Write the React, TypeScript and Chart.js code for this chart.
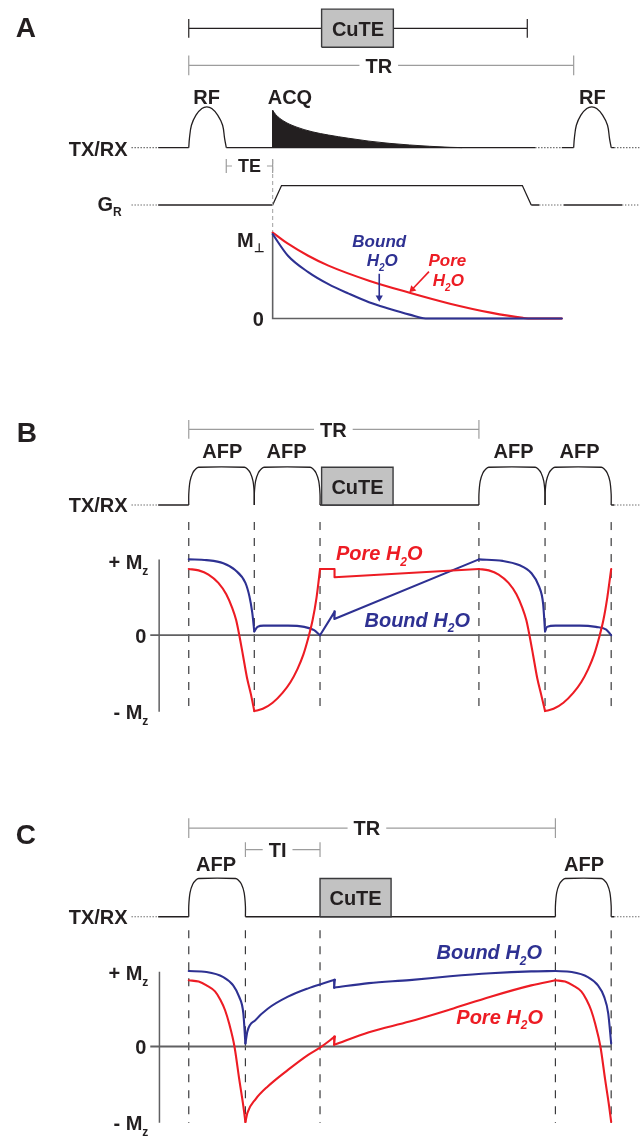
import { useEffect, useRef } from "react";
import { Chart, registerables } from "chart.js";

Chart.register(...registerables);

const W = 644;
const H = 1142;
// time axis in arbitrary units, 0 = start of the first pulse
const X_MIN = -187;
const X_MAX = 457;

const INK = "#231f20";
const RED = "#ed1c24";
const BLUE = "#2e3192";
const GRAY = "#9d9d9d";
const AXIS = "#606062";
const BOXFILL = "#c2c2c2";
const FONT = '"Liberation Sans", Arial, Helvetica, sans-serif';

// ---------------- Panel A ----------------
const cuteSpanA = [0, 343];
const cuteBoxA = [134.6, 207.3];
const trSpanA = [0, 390];
const teSpanA = [38, 85];
const rfShapeT = [0, 0.7, 2.7, 7.3, 13.3, 18.3, 23.3, 29.3, 34.3, 36.3, 38];
const rfShapeV = [0, 0.23, 0.55, 0.8, 0.96, 1.0, 0.96, 0.8, 0.55, 0.23, 0];
const rfStartsA = [0, 390];
const acqT = [85, 88.2, 96.4, 108.7, 125, 141.5, 162, 182.6, 203, 223.7, 244, 264.7, 277];
const acqV = [0.92, 0.81, 0.65, 0.51, 0.39, 0.31, 0.23, 0.16, 0.106, 0.065, 0.033, 0.008, 0];
const txSolidA = [[-31, 0], [38, 351], [378, 390], [428, 431]];
const txDottedA = [[-58, -31], [351, 378], [431, 457]];
const gradT = [85, 94, 338, 347];
const gradV = [0, 1, 1, 0];
const gSolidA = [[-31, 85], [347, 355], [380, 439]];
const gDottedA = [[-58, -31], [355, 380], [439, 457]];
const echoTimeA = 85;
const mAxisEndA = 378;
const boundAT = [85, 100.5, 121, 141.5, 162, 182.6, 203, 223.7, 240, 378];
const boundAV = [0.98, 0.73, 0.54, 0.4, 0.29, 0.19, 0.115, 0.046, 0, 0];
const poreAT = [85, 100.5, 121, 141.5, 182.6, 223.7, 264.7, 305.8, 338.7, 347, 378];
const poreAV = [1.0, 0.87, 0.73, 0.615, 0.44, 0.3, 0.173, 0.069, 0.008, 0, 0];
const arrowBoundAT = [193, 193];
const arrowBoundAV = [0.52, 0.245];
const arrowPoreAT = [243.4, 226.5];
const arrowPoreAV = [0.545, 0.34];

// ---------------- Panel B ----------------
const trSpanB = [0, 294];
const afpEdgeT = [0, 0, 1.3, 4, 7.3, 10];
const afpEdgeV = [0, 0.28, 0.63, 0.85, 0.96, 1];
const afpStartsB = [0, 66.4, 294, 361];
const afpEndsB = [66.4, 133, 361, 428];
const cuteBoxB = [134.6, 207];
const txSolidB = [[-31, 0], [133, 294], [428, 431]];
const txDottedB = [[-58, -31], [431, 457]];
const markersB = [0, 66.4, 133, 294, 361, 428];
const boundBT = [
  [0, 18, 35, 47, 57.4, 61.5, 64.3, 66.4],
  [66.4, 69.7, 75.8, 100.5, 117, 127, 133],
  [133, 148, 147.5, 294],
  [294, 318, 334.6, 347, 355, 359, 361],
  [361, 363, 371.5, 396, 412.6, 423, 428],
];
const boundBV = [
  [1, 0.99, 0.95, 0.86, 0.69, 0.51, 0.3, 0.05],
  [0.05, 0.11, 0.127, 0.127, 0.11, 0.066, 0],
  [0, 0.314, 0.214, 1],
  [1, 0.98, 0.925, 0.82, 0.64, 0.42, 0.05],
  [0.05, 0.11, 0.127, 0.127, 0.11, 0.075, 0],
];
const poreBT = [
  [0, 10, 20, 30, 38, 44, 48, 51.2, 55, 59, 63, 66.4],
  [66.4, 75, 85, 95, 103, 110, 116, 121, 125.5, 129.5, 133],
  [133, 147.7, 147.7, 294],
  [294, 304, 314, 324, 332, 338, 342, 345.2, 349, 353, 357, 361],
  [361, 369.6, 379.6, 389.6, 397.6, 404.6, 410.6, 415.6, 420.1, 424.1, 428],
];
const poreBV = [
  [0.873, 0.855, 0.8, 0.69, 0.54, 0.36, 0.2, 0, -0.27, -0.56, -0.78, -1],
  [-1, -0.97, -0.89, -0.76, -0.62, -0.45, -0.26, -0.04, 0.2, 0.5, 0.873],
  [0.873, 0.873, 0.764, 0.873],
  [0.873, 0.855, 0.8, 0.69, 0.54, 0.36, 0.2, 0, -0.27, -0.56, -0.78, -1],
  [-1, -0.97, -0.89, -0.76, -0.62, -0.45, -0.26, -0.04, 0.2, 0.5, 0.873],
];

// ---------------- Panel C ----------------
const trSpanC = [0, 371.5];
const tiSpanC = [57.4, 133];
const afpStartsC = [0, 371.5];
const afpEndsC = [57.4, 428];
const cuteBoxC = [133, 205];
const txSolidC = [[-31, 0], [57.4, 371.5], [428, 431]];
const txDottedC = [[-58, -31], [431, 457]];
const markersC = [0, 57.4, 133, 371.5, 428];
const boundCT = [
  [0, 18, 35, 45, 51, 55.3, 57.4],
  [57.4, 59.4, 67.6, 80, 100.5, 121, 137.4, 148],
  [148, 147.3],
  [147.3, 182.6, 223.7, 264.7, 305.8, 347, 371.5],
  [371.5, 388, 404.4, 414.6, 420.8, 425, 428],
];
const boundCV = [
  [1, 0.987, 0.92, 0.81, 0.66, 0.44, 0.04],
  [0.04, 0.2, 0.35, 0.5, 0.66, 0.77, 0.84, 0.885],
  [0.885, 0.78],
  [0.78, 0.84, 0.88, 0.93, 0.97, 0.995, 1],
  [1, 0.987, 0.92, 0.81, 0.66, 0.44, 0.04],
];
const poreCT = [
  [0, 10, 18, 26.6, 32, 36.8, 41, 46.3, 51.2, 55.3, 57.4],
  [57.4, 59.4, 67.6, 80, 100.5, 121, 132.5, 148],
  [148, 147.3],
  [147.3, 182.6, 223.7, 264.7, 305.8, 347, 371.5],
  [371.5, 381.3, 389.2, 397.7, 403, 407.7, 411.8, 417.1, 421.9, 425.9, 428],
];
const poreCV = [
  [0.877, 0.86, 0.81, 0.73, 0.62, 0.48, 0.3, 0, -0.44, -0.79, -1],
  [-1, -0.88, -0.7, -0.53, -0.31, -0.11, -0.02, 0.13],
  [0.13, 0.022],
  [0.022, 0.19, 0.33, 0.49, 0.66, 0.81, 0.877],
  [0.877, 0.86, 0.81, 0.73, 0.62, 0.48, 0.3, 0, -0.44, -0.79, -1],
];

// ---------------- layout (pixel row placement) ----------------
// [baseline pixel, pixels per unit]
const ROWS: Record<string, number[]> = {
  txA: [144.5, 41],
  gA: [202.3, 19.6],
  mA: [316.7, 86.7],
  txB: [504.5, 38],
  mB: [635.7, 76.4],
  txC: [919.3, 38.5],
  mC: [1050, 76],
};

type Label = {
  text: string;
  t: number;
  y: number;
  size?: number;
  color?: string;
  italic?: boolean;
  align?: string;
  knockout?: boolean;
};

const LABELS: Label[] = [
  // Panel A
  { text: "A", t: -165, y: 23, size: 28 },
  { text: "CuTE", t: 171.5, y: 24.5 },
  { text: "TR", t: 192.5, y: 62, knockout: true },
  { text: "RF", t: 18, y: 93 },
  { text: "ACQ", t: 102.5, y: 93 },
  { text: "RF", t: 409, y: 93 },
  { text: "TX/RX", t: -62, y: 146, align: "right" },
  { text: "TE", t: 61.5, y: 163, size: 18, knockout: true },
  { text: "G_R", t: -68, y: 201, align: "right" },
  { text: "M_⊥", t: 76, y: 237, align: "right" },
  { text: "0", t: 76, y: 317, align: "right" },
  { text: "Bound", t: 193, y: 238, size: 17, color: BLUE, italic: true },
  { text: "H_2O", t: 196, y: 258, size: 17, color: BLUE, italic: true },
  { text: "Pore", t: 262, y: 258, size: 17, color: RED, italic: true },
  { text: "H_2O", t: 263, y: 278, size: 17, color: RED, italic: true },
  // Panel B
  { text: "B", t: -164, y: 431, size: 28 },
  { text: "TR", t: 146.5, y: 428.3, knockout: true },
  { text: "AFP", t: 34, y: 450 },
  { text: "AFP", t: 99, y: 450 },
  { text: "AFP", t: 329, y: 450 },
  { text: "AFP", t: 396, y: 450 },
  { text: "CuTE", t: 171, y: 486 },
  { text: "TX/RX", t: -62, y: 504, align: "right" },
  { text: "+ M_z", t: -41, y: 562, align: "right" },
  { text: "0", t: -43, y: 636, align: "right" },
  { text: "- M_z", t: -41, y: 713, align: "right" },
  { text: "Pore H_2O", t: 193, y: 553, color: RED, italic: true },
  { text: "Bound H_2O", t: 231.5, y: 620, color: BLUE, italic: true },
  // Panel C
  { text: "C", t: -165, y: 836, size: 28 },
  { text: "TR", t: 180.5, y: 830, knockout: true },
  { text: "TI", t: 90, y: 851.7, knockout: true },
  { text: "AFP", t: 27.6, y: 866 },
  { text: "AFP", t: 400.5, y: 866 },
  { text: "CuTE", t: 169, y: 900 },
  { text: "TX/RX", t: -62, y: 919, align: "right" },
  { text: "+ M_z", t: -41, y: 976, align: "right" },
  { text: "0", t: -43, y: 1050, align: "right" },
  { text: "- M_z", t: -41, y: 1127, align: "right" },
  { text: "Bound H_2O", t: 304.5, y: 955, color: BLUE, italic: true },
  { text: "Pore H_2O", t: 315, y: 1020, color: RED, italic: true },
];

// ---------------- helpers ----------------
function pts(T: number[], V: number[]) {
  return T.map((t, i) => ({ x: t, y: V[i] }));
}
function increasing(T: number[]) {
  return T.every((t, i) => i === 0 || t > T[i - 1]);
}

function buildDatasets() {
  const ds: any[] = [];
  const add = (data: any[], axis: string, style: any) => {
    ds.push(
      Object.assign(
        {
          data: data,
          yAxisID: axis,
          showLine: true,
          pointRadius: 0,
          borderWidth: 1.3,
          borderColor: INK,
          backgroundColor: INK,
          fill: false,
          tension: 0,
        },
        style || {}
      )
    );
  };
  const curve = (T: number[], V: number[], axis: string, color: string) => {
    const st: any = {
      borderColor: color,
      borderWidth: 2.1,
      borderCapStyle: "round",
      borderJoinStyle: "round",
    };
    if (increasing(T)) st.cubicInterpolationMode = "monotone";
    add(pts(T, V), axis, st);
  };
  const bracket = (span: number[], yc: number, h: number, color: string) => {
    const data = [
      { x: span[0], y: yc - h },
      { x: span[0], y: yc + h },
      { x: span[0], y: yc },
      { x: span[1], y: yc },
      { x: span[1], y: yc - h },
      { x: span[1], y: yc + h },
    ];
    add(data, "layout", { borderColor: color, borderWidth: 1.2 });
  };
  const segs = (list: number[][], axis: string, dotted: boolean) => {
    list.forEach((seg) => {
      const data = [
        { x: seg[0], y: 0 },
        { x: seg[1], y: 0 },
      ];
      if (dotted) add(data, axis, { borderColor: "#5a5a5a", borderWidth: 1.2, borderDash: [1.3, 1.7] });
      else add(data, axis, { borderWidth: 1.3 });
    });
  };
  const rf = (start: number, axis: string) => {
    add(pts(rfShapeT.map((t) => t + start), rfShapeV), axis, { tension: 0.35 });
  };
  const afp = (start: number, end: number, axis: string) => {
    const left = pts(afpEdgeT.map((t) => start + t), afpEdgeV);
    const right = pts(afpEdgeT.map((t) => end - t).reverse(), afpEdgeV.slice().reverse());
    add(left.concat(right), axis, { tension: 0.35 });
  };
  const box = (span: number[], top: number, bottom: number, axis: string) => {
    add(
      [
        { x: span[0], y: top },
        { x: span[1], y: top },
      ],
      axis,
      { borderWidth: 0, backgroundColor: BOXFILL, fill: { target: { value: bottom } } }
    );
    add(
      [
        { x: span[0], y: bottom },
        { x: span[0], y: top },
        { x: span[1], y: top },
        { x: span[1], y: bottom },
        { x: span[0], y: bottom },
      ],
      axis,
      { borderColor: "#3a3a3c", borderWidth: 1.4 }
    );
  };
  const vline = (t: number, y0: number, y1: number, axis: string, style: any) => {
    add(
      [
        { x: t, y: y0 },
        { x: t, y: y1 },
      ],
      axis,
      style
    );
  };
  const arrow = (T: number[], V: number[], axis: string, color: string, rot: number) => {
    add(pts(T, V), axis, {
      borderColor: color,
      backgroundColor: color,
      borderWidth: 1.6,
      pointRadius: [0, 4.2],
      pointStyle: "triangle",
      pointRotation: [0, rot],
      pointBorderWidth: 0,
      pointBackgroundColor: color,
    });
  };

  // ===== Panel A =====
  bracket(cuteSpanA, 24.3, 9.5, INK);
  box(cuteBoxA, 5, 43.3, "layout");
  bracket(trSpanA, 61.7, 10, GRAY);
  bracket(teSpanA, 163, 7, GRAY);
  segs(txDottedA, "txA", true);
  segs(txSolidA, "txA", false);
  add(pts(acqT, acqV), "txA", {
    fill: "origin",
    backgroundColor: INK,
    borderWidth: 1,
    cubicInterpolationMode: "monotone",
  });
  vline(acqT[0], 0, acqV[0], "txA", { borderWidth: 1.3 });
  rfStartsA.forEach((s) => rf(s, "txA"));
  segs(gDottedA, "gA", true);
  segs(gSolidA, "gA", false);
  add(pts(gradT, gradV), "gA", { borderWidth: 1.3 });
  vline(echoTimeA, 157, 230, "layout", { borderColor: "#a8a8a8", borderWidth: 1.1, borderDash: [4, 3] });
  add(
    [
      { x: echoTimeA, y: 1.0 },
      { x: echoTimeA, y: 0 },
      { x: mAxisEndA, y: 0 },
    ],
    "mA",
    { borderColor: AXIS, borderWidth: 1.6 }
  );
  curve(poreAT, poreAV, "mA", RED);
  curve(boundAT, boundAV, "mA", BLUE);
  arrow(arrowBoundAT, arrowBoundAV, "mA", BLUE, 180);
  arrow(arrowPoreAT, arrowPoreAV, "mA", RED, 225);

  // ===== Panel B =====
  bracket(trSpanB, 428.3, 9.5, GRAY);
  segs(txDottedB, "txB", true);
  segs(txSolidB, "txB", false);
  afpStartsB.forEach((s, i) => afp(s, afpEndsB[i], "txB"));
  box(cuteBoxB, 1, 0, "txB");
  markersB.forEach((t) =>
    vline(t, 521.7, 713, "layout", { borderColor: "#3a3a3c", borderWidth: 1.2, borderDash: [8, 8] })
  );
  vline(-30, 1.0, -1.01, "mB", { borderColor: AXIS, borderWidth: 1.5 });
  add(
    [
      { x: -39, y: 0 },
      { x: 428, y: 0 },
    ],
    "mB",
    { borderColor: AXIS, borderWidth: 1.8 }
  );
  boundBT.forEach((T, i) => curve(T, boundBV[i], "mB", BLUE));
  poreBT.forEach((T, i) => curve(T, poreBV[i], "mB", RED));

  // ===== Panel C =====
  bracket(trSpanC, 830, 10, GRAY);
  bracket(tiSpanC, 851.7, 7.5, GRAY);
  segs(txDottedC, "txC", true);
  segs(txSolidC, "txC", false);
  afpStartsC.forEach((s, i) => afp(s, afpEndsC[i], "txC"));
  box(cuteBoxC, 1, 0, "txC");
  markersC.forEach((t) =>
    vline(t, 933, 1127, "layout", { borderColor: "#3a3a3c", borderWidth: 1.2, borderDash: [8, 8] })
  );
  vline(-29.7, 0.99, -1.01, "mC", { borderColor: AXIS, borderWidth: 1.5 });
  add(
    [
      { x: -39, y: 0 },
      { x: 428, y: 0 },
    ],
    "mC",
    { borderColor: AXIS, borderWidth: 1.8 }
  );
  boundCT.forEach((T, i) => curve(T, boundCV[i], "mC", BLUE));
  poreCT.forEach((T, i) => curve(T, poreCV[i], "mC", RED));

  // paint order: earlier datasets underneath
  const n = ds.length;
  ds.forEach((d, i) => {
    d.order = n - i;
  });
  return ds;
}

function drawLabel(ctx: CanvasRenderingContext2D, lb: Label, px: number, py: number) {
  const size = lb.size || 20;
  const parts: { s: string; sub: boolean }[] = [];
  const s = lb.text;
  for (let i = 0; i < s.length; i++) {
    if (s[i] === "_" && i + 1 < s.length) {
      parts.push({ s: s[i + 1], sub: true });
      i++;
    } else {
      const last = parts[parts.length - 1];
      if (last && !last.sub) last.s += s[i];
      else parts.push({ s: s[i], sub: false });
    }
  }
  const style = (lb.italic ? "italic " : "") + "bold ";
  const mainFont = style + size + "px " + FONT;
  const subFont = style + Math.round(size * 0.6) + "px " + FONT;
  let total = 0;
  const widths = parts.map((p) => {
    ctx.font = p.sub ? subFont : mainFont;
    const w = ctx.measureText(p.s).width;
    total += w;
    return w;
  });
  const align = lb.align || "center";
  let x = align === "right" ? px - total : align === "left" ? px : px - total / 2;
  const base = py + size * 0.36;
  if (lb.knockout) {
    ctx.fillStyle = "#ffffff";
    ctx.fillRect(x - 6, py - size * 0.55, total + 12, size * 1.1);
  }
  ctx.fillStyle = lb.color || INK;
  ctx.textAlign = "left";
  ctx.textBaseline = "alphabetic";
  parts.forEach((p, i) => {
    ctx.font = p.sub ? subFont : mainFont;
    ctx.fillText(p.s, x, p.sub ? base + size * 0.27 : base);
    x += widths[i];
  });
}

const labelPlugin = {
  id: "diagramLabels",
  afterDatasetsDraw(chart: any) {
    const ctx = chart.ctx as CanvasRenderingContext2D;
    const xs = chart.scales.x;
    const ys = chart.scales.layout;
    ctx.save();
    LABELS.forEach((lb) => drawLabel(ctx, lb, xs.getPixelForValue(lb.t), ys.getPixelForValue(lb.y)));
    ctx.restore();
  },
};

function rowScale(base: number, unit: number) {
  return {
    type: "linear",
    axis: "y",
    display: false,
    min: (base - H) / unit,
    max: base / unit,
    grid: { display: false },
    ticks: { display: false },
  };
}

export default function App() {
  const ref = useRef<HTMLCanvasElement>(null);
  useEffect(() => {
    const scales: any = {
      x: { type: "linear", display: false, min: X_MIN, max: X_MAX, grid: { display: false } },
      layout: { type: "linear", axis: "y", display: false, min: 0, max: H, reverse: true },
    };
    Object.keys(ROWS).forEach((id) => {
      scales[id] = rowScale(ROWS[id][0], ROWS[id][1]);
    });
    const chart = new Chart(ref.current as HTMLCanvasElement, {
      type: "scatter",
      data: { datasets: buildDatasets() },
      options: {
        animation: false,
        responsive: false,
        maintainAspectRatio: false,
        devicePixelRatio: 1,
        events: [],
        layout: { padding: 0 },
        plugins: {
          legend: { display: false },
          tooltip: { enabled: false },
          title: { display: false },
        },
        scales: scales,
      },
      plugins: [labelPlugin],
    } as any);
    return () => chart.destroy();
  }, []);
  return (
    <div style={{ position: "absolute", left: 0, top: 0, width: W, height: H, background: "#ffffff" }}>
      <canvas ref={ref} width={W} height={H} style={{ display: "block", width: W, height: H }} />
    </div>
  );
}
